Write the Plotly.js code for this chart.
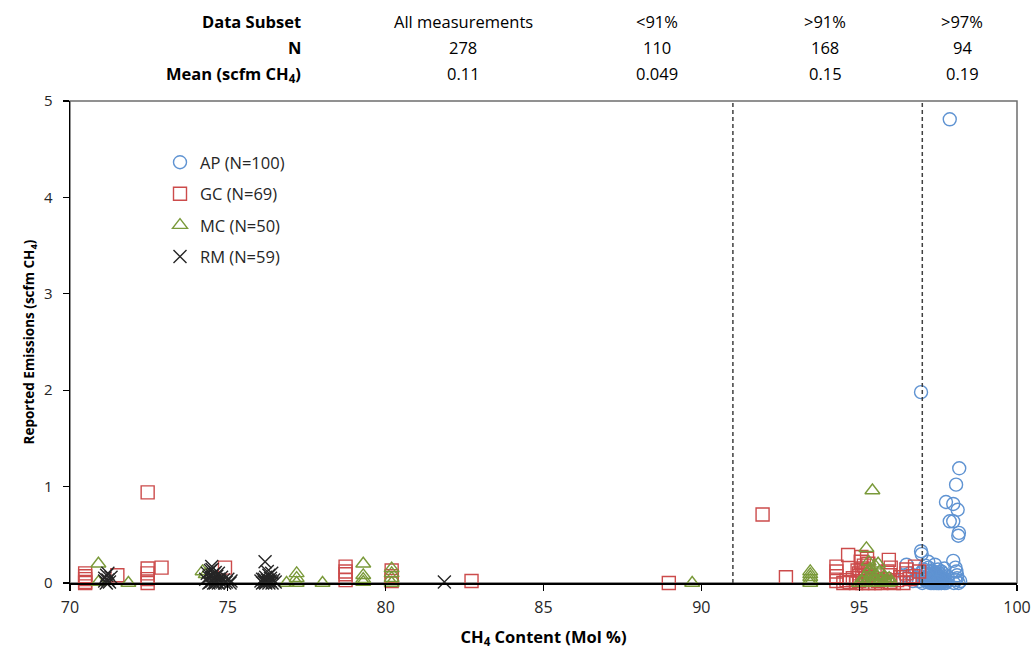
<!DOCTYPE html>
<html>
<head>
<meta charset="utf-8">
<script src="https://cdn.plot.ly/plotly-3.0.1.min.js"></script>
<style>html,body{margin:0;padding:0;background:#fff;}#chart{width:1032px;height:654px;}</style>
</head>
<body>
<div id="chart"></div>
<script>
// ---- Data ----
var apX = [97.87, 96.96, 98.17, 98.07, 97.75, 97.98, 98.12, 97.87, 97.98, 98.16,
  98.14, 96.96, 96.98, 96.50, 97.98, 98.08, 98.10, 97.19, 97.40, 96.45,
  96.90, 96.95, 97.00, 97.00, 97.05, 97.10, 97.10, 97.15, 97.20, 97.20,
  97.25, 97.30, 97.30, 97.35, 97.40, 97.40, 97.45, 97.50, 97.50, 97.50,
  97.55, 97.60, 97.60, 97.60, 97.65, 97.70, 97.70, 97.75, 97.80, 97.80,
  97.40, 97.50, 97.60, 97.45, 97.55, 97.35, 97.65, 97.50, 97.45, 97.55,
  97.60, 97.40, 97.50, 97.30, 97.70, 97.50, 97.55, 97.45, 97.60, 97.50,
  98.00, 98.05, 98.10, 98.15, 98.20, 97.10, 97.20, 96.80, 96.70, 96.60,
  97.30, 97.50, 97.60, 97.40, 97.50, 97.55, 97.45, 97.50, 97.60, 97.35,
  97.50, 97.00, 97.05, 97.15, 97.25, 97.45, 97.55, 97.65, 97.50, 98.05];
var apY = [4.81, 1.98, 1.19, 1.02, 0.84, 0.82, 0.76, 0.64, 0.64, 0.52,
  0.49, 0.33, 0.30, 0.19, 0.23, 0.12, 0.05, 0.22, 0.19, 0.08,
  0.02, 0.10, 0.00, 0.06, 0.14, 0.03, 0.09, 0.01, 0.05, 0.12,
  0.00, 0.04, 0.10, 0.02, 0.00, 0.07, 0.03, 0.00, 0.05, 0.11,
  0.02, 0.00, 0.04, 0.08, 0.01, 0.03, 0.15, 0.00, 0.02, 0.07,
  0.01, 0.02, 0.01, 0.00, 0.00, 0.06, 0.05, 0.03, 0.09, 0.06,
  0.02, 0.03, 0.08, 0.00, 0.00, 0.01, 0.04, 0.05, 0.00, 0.00,
  0.00, 0.03, 0.08, 0.00, 0.02, 0.18, 0.16, 0.05, 0.02, 0.10,
  0.13, 0.14, 0.12, 0.11, 0.07, 0.01, 0.02, 0.04, 0.06, 0.00,
  0.03, 0.12, 0.04, 0.07, 0.09, 0.01, 0.03, 0.10, 0.01, 0.16];

var gcX = [72.46, 70.48, 70.48, 70.48, 70.48, 70.48, 71.50, 72.46, 72.46, 72.46,
  72.46, 72.90, 74.91, 78.73, 78.73, 78.73, 78.73, 80.19, 80.19, 80.19,
  82.72, 88.97, 91.94, 92.68, 94.65, 94.28, 94.28, 94.28, 94.28, 95.07,
  95.29, 95.94, 96.77, 96.60, 95.97, 95.97,
  94.50, 94.60, 94.70, 94.80, 94.90, 95.00, 95.00, 95.10, 95.10, 95.20,
  95.20, 95.30, 95.30, 95.40, 95.50, 95.60, 95.70, 95.80, 95.90, 96.00,
  96.10, 96.20, 96.30, 96.40, 96.50, 96.50, 96.70, 96.90, 95.05, 95.15,
  94.95, 95.25, 95.00];
var gcY = [0.94, 0.10, 0.07, 0.04, 0.01, 0.00, 0.08, 0.15, 0.10, 0.04,
  0.00, 0.16, 0.16, 0.17, 0.12, 0.09, 0.03, 0.13, 0.07, 0.02,
  0.02, 0.00, 0.71, 0.06, 0.29, 0.17, 0.12, 0.07, 0.02, 0.27,
  0.20, 0.24, 0.17, 0.04, 0.08, 0.01,
  0.00, 0.03, 0.01, 0.05, 0.00, 0.02, 0.10, 0.00, 0.15, 0.05,
  0.12, 0.00, 0.08, 0.03, 0.00, 0.02, 0.00, 0.04, 0.12, 0.16,
  0.00, 0.03, 0.06, 0.00, 0.10, 0.14, 0.07, 0.12, 0.22, 0.18,
  0.13, 0.25, 0.07];

var mcX = [70.90, 70.90, 71.85, 74.20, 74.30, 77.18, 77.18, 76.86, 78.00, 77.18,
  79.29, 79.29, 79.29, 79.29, 80.19, 80.19, 80.19, 80.19, 89.71, 93.45,
  93.45, 93.45, 93.45, 93.45, 95.42, 95.23,
  95.00, 95.10, 95.15, 95.20, 95.25, 95.30, 95.35, 95.40, 95.45, 95.50,
  95.55, 95.60, 95.65, 95.70, 95.75, 95.80, 95.85, 95.90, 95.95, 96.00,
  95.30, 95.50, 95.60, 95.40];
var mcY = [0.20, 0.01, 0.00, 0.12, 0.09, 0.10, 0.05, 0.00, 0.00, 0.00,
  0.20, 0.08, 0.04, 0.01, 0.15, 0.10, 0.05, 0.00, 0.00, 0.12,
  0.09, 0.06, 0.03, 0.00, 0.96, 0.36,
  0.00, 0.02, 0.05, 0.00, 0.10, 0.03, 0.15, 0.00, 0.06, 0.02,
  0.08, 0.00, 0.12, 0.04, 0.00, 0.07, 0.02, 0.00, 0.05, 0.01,
  0.22, 0.18, 0.20, 0.10];

var rmX = [71.16, 71.20, 71.10, 71.25, 71.15, 71.30, 71.20, 71.10,
  74.30, 74.35, 74.40, 74.45, 74.49, 74.50, 74.50, 74.55, 74.55, 74.60,
  74.60, 74.65, 74.65, 74.70, 74.70, 74.75, 74.80, 74.86, 74.90, 74.95,
  75.00, 75.07, 75.10, 74.40, 74.50, 74.45, 74.55, 74.60, 74.50, 74.70,
  76.05, 76.10, 76.15, 76.18, 76.20, 76.20, 76.25, 76.30, 76.30, 76.35,
  76.39, 76.40, 76.45, 76.15, 76.25, 76.35, 76.50, 76.10, 76.20, 76.30,
  81.86];
var rmY = [0.08, 0.03, 0.05, 0.01, 0.00, 0.06, 0.10, 0.02,
  0.04, 0.10, 0.00, 0.13, 0.17, 0.02, 0.08, 0.05, 0.00, 0.11,
  0.03, 0.07, 0.01, 0.00, 0.04, 0.02, 0.06, 0.03, 0.00, 0.01,
  0.04, 0.00, 0.02, 0.06, 0.14, 0.01, 0.09, 0.00, 0.03, 0.10,
  0.02, 0.00, 0.04, 0.22, 0.01, 0.06, 0.03, 0.00, 0.08, 0.02,
  0.10, 0.00, 0.03, 0.01, 0.12, 0.05, 0.01, 0.04, 0.00, 0.02,
  0.01];

var seriesNames = ["AP (N=100)", "GC (N=69)", "MC (N=50)", "RM (N=59)"];
var thresholds = [91, 97];

var tableRowLabels = ["<b>Data Subset</b>", "<b>N</b>", "<b>Mean (scfm CH<sub>4</sub>)</b>"];
var tableCols = ["All measurements", "<91%", ">91%", ">97%"];
var tableN = ["278", "110", "168", "94"];
var tableMean = ["0.11", "0.049", "0.15", "0.19"];

var xTickVals = [70, 75, 80, 85, 90, 95, 100];
var yTickVals = [0, 1, 2, 3, 4, 5];

// ---- Chart ----
var FONT = "Open Sans, Liberation Sans, Arial, sans-serif";
function trace(x, y, name, symbol, color, lw) {
  return {
    x: x, y: y, name: name, type: "scatter", mode: "markers",
    legendgroup: name, cliponaxis: false,
    marker: { symbol: symbol, size: 13, color: color, line: { color: color, width: lw } }
  };
}
var data = [
  trace(apX, apY, seriesNames[0], "circle-open", "#5f93d2", 1.4),
  trace(gcX, gcY, seriesNames[1], "square-open", "#cc4b4b", 1.4),
  trace(mcX, mcY, seriesNames[2], "triangle-up-open", "#7a9a3a", 1.4),
  trace(rmX, rmY, seriesNames[3], "x-thin-open", "#262626", 1.4)
];

var W = 1032, H = 654, L = 70, R = 15, T = 101, B = 71;
var pw = W - L - R, ph = H - T - B;
function px2paperX(p) { return (p - L) / pw; }
function px2paperY(p) { return (H - B - p) / ph; }

var annotations = [];
var rowY = [22, 48, 74];
var colX = [463, 657, 825, 962];
var rows = [tableCols, tableN, tableMean];
for (var r = 0; r < 3; r++) {
  annotations.push({
    xref: "paper", yref: "paper", x: px2paperX(303), y: px2paperY(rowY[r]),
    xanchor: "right", yanchor: "middle", showarrow: false,
    text: tableRowLabels[r], font: { family: FONT, size: 16.5, color: "#000" }
  });
  for (var c = 0; c < 4; c++) {
    annotations.push({
      xref: "paper", yref: "paper", x: px2paperX(colX[c]), y: px2paperY(rowY[r]),
      xanchor: "center", yanchor: "middle", showarrow: false,
      text: rows[r][c].replace("<", "&lt;").replace(">", "&gt;"),
      font: { family: FONT, size: 16.5, color: "#000" }
    });
  }
}

var shapes = thresholds.map(function (t) {
  return { type: "line", xref: "x", yref: "y", x0: t, x1: t, y0: 0, y1: 5,
    line: { color: "#404040", width: 1.5, dash: "4px,3px" } };
});
shapes.push({ type: "rect", xref: "paper", yref: "paper", x0: 0, x1: 1, y0: 0, y1: 1,
  line: { color: "#6e6e6e", width: 1.5 }, layer: "below" });

var layout = {
  width: W, height: H,
  margin: { l: L, r: R, t: T, b: B },
  paper_bgcolor: "#fff", plot_bgcolor: "#fff",
  font: { family: FONT, color: "#262626" },
  showlegend: true,
  legend: {
    x: px2paperX(160), y: px2paperY(145), xanchor: "left", yanchor: "top",
    bgcolor: "rgba(0,0,0,0)", tracegroupgap: 7,
    font: { family: FONT, size: 16.5, color: "#262626" }
  },
  xaxis: {
    range: [70, 100], tickvals: xTickVals, ticks: "outside", ticklen: 6, tickwidth: 1.3,
    tickcolor: "#000", showline: true, linecolor: "#000", linewidth: 1.5,
    showgrid: false, zeroline: false, ticklabelstandoff: 3,
    tickfont: { family: FONT, size: 16, color: "#262626" },
    title: { text: "<b>CH<sub>4</sub> Content (Mol %)</b>", standoff: 14,
      font: { family: FONT, size: 16.5, color: "#000" } }
  },
  yaxis: {
    range: [0, 5], tickvals: yTickVals, ticks: "outside", ticklen: 6, tickwidth: 1.3,
    tickcolor: "#000", showline: true, linecolor: "#000", linewidth: 1.5,
    showgrid: false, zeroline: false, ticklabelstandoff: 7,
    tickfont: { family: FONT, size: 15, color: "#262626" },
    title: { text: "<b>Reported Emissions (scfm CH<sub>4</sub>)</b>", standoff: 6,
      font: { family: FONT, size: 13.5, color: "#000" } }
  },
  annotations: annotations,
  shapes: shapes
};

Plotly.newPlot("chart", data, layout, { displayModeBar: false, staticPlot: true });
</script>
</body>
</html>
